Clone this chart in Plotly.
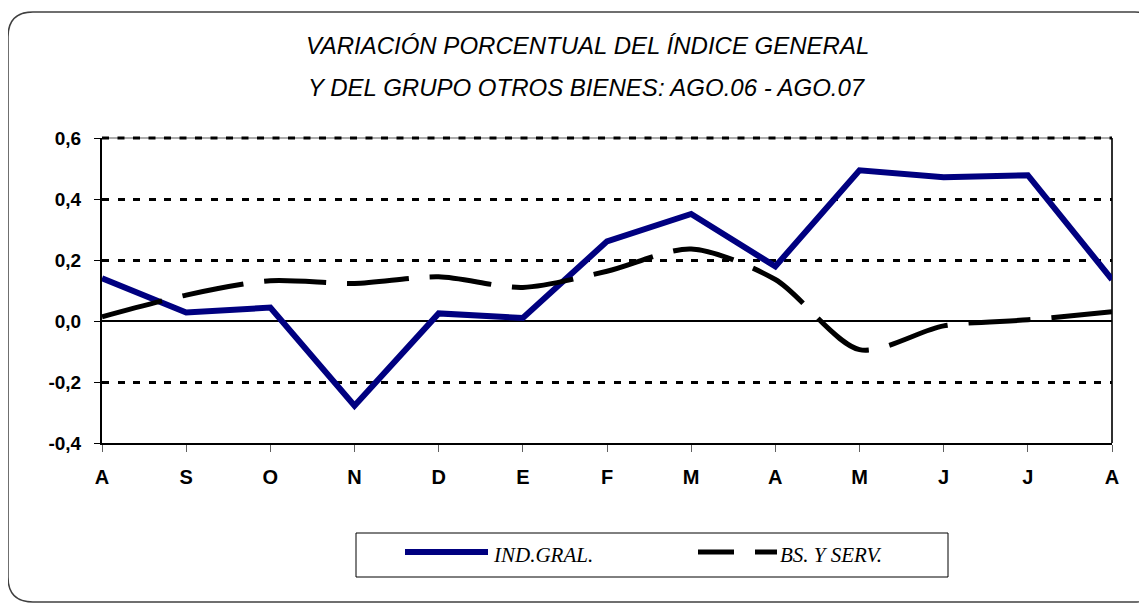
import plotly.graph_objects as go

months = ["A", "S", "O", "N", "D", "E", "F", "M", "A", "M", "J", "J", "A"]
ind_gral = [0.14, 0.028, 0.044, -0.278, 0.025, 0.01, 0.261, 0.351, 0.179, 0.494, 0.471, 0.478, 0.136]
bs_serv = [0.014, 0.085, 0.132, 0.123, 0.145, 0.11, 0.163, 0.236, 0.136, -0.094, -0.016, 0.004, 0.03]
yticks = [-0.4, -0.2, 0.0, 0.2, 0.4, 0.6]
series_names = ["IND.GRAL.", "BS. Y SERV."]
title_lines = ["VARIACIÓN PORCENTUAL DEL ÍNDICE GENERAL", "Y DEL GRUPO OTROS BIENES: AGO.06 - AGO.07"]

# page body has an 8px margin; figure sized so the picture fits 1147x604
W, H = 1139, 596
L, T = 94, 130
PW, PH = 1010, 305
R, B = W - L - PW, H - T - PH

# screen-pixel helpers (screen = figure + 8) -> paper coords
def px(x):
    return (x - 102) / PW

def py(y):
    return (443 - y) / PH

x = list(range(len(months)))

fig = go.Figure()
fig.add_trace(go.Scatter(x=x, y=ind_gral, mode="lines", name=series_names[0], showlegend=False,
                         line=dict(color="#000080", width=6)))
fig.add_trace(go.Scatter(x=x, y=bs_serv, mode="lines", name=series_names[1], showlegend=False,
                         line=dict(color="black", width=5, dash="62px,21px", shape="spline", smoothing=0.8)))

# rounded outer border
x0, x1, y0, y1 = px(8), px(1160), py(12), py(602)
rx, ry = 25 / PW, 25 / PH
border = (f"M {x0},{y1+ry} L {x0},{y0-ry} Q {x0},{y0} {x0+rx},{y0} L {x1-rx},{y0} "
          f"Q {x1},{y0} {x1},{y0-ry} L {x1},{y1+ry} Q {x1},{y1} {x1-rx},{y1} "
          f"L {x0+rx},{y1} Q {x0},{y1} {x0},{y1+ry} Z")

shapes = [
    dict(type="path", xref="paper", yref="paper", path=border,
         line=dict(color="#404040", width=1.5)),
    # right and top frame of plot area
    dict(type="line", xref="paper", yref="paper", x0=1, x1=1, y0=0, y1=1,
         line=dict(color="#303030", width=2), layer="below"),
    dict(type="line", xref="paper", yref="paper", x0=0, x1=1, y0=1, y1=1,
         line=dict(color="#909090", width=1.5), layer="below"),
    dict(type="line", xref="paper", yref="paper", x0=0, x1=1, y0=1, y1=1,
         line=dict(color="black", width=3, dash="7px,8.5px"), layer="below"),
    # legend box
    dict(type="rect", xref="paper", yref="paper", x0=px(356), x1=px(948), y0=py(577), y1=py(533),
         line=dict(color="black", width=1), fillcolor="white"),
    dict(type="line", xref="paper", yref="paper", x0=px(405), x1=px(488), y0=py(552), y1=py(552),
         line=dict(color="#000080", width=6)),
    dict(type="line", xref="paper", yref="paper", x0=px(698), x1=px(734), y0=py(552), y1=py(552),
         line=dict(color="black", width=5)),
    dict(type="line", xref="paper", yref="paper", x0=px(755), x1=px(777), y0=py(552), y1=py(552),
         line=dict(color="black", width=5)),
]

annotations = [
    dict(text="<i>%s</i>" % title_lines[0], xref="paper", yref="paper", x=px(587), y=py(45),
         xanchor="center", yanchor="middle", showarrow=False,
         font=dict(family="Arial, Liberation Sans", size=24, color="black")),
    dict(text="<i>%s</i>" % title_lines[1], xref="paper", yref="paper", x=px(587), y=py(87),
         xanchor="center", yanchor="middle", showarrow=False,
         font=dict(family="Arial, Liberation Sans", size=24, color="black")),
    dict(text="<i>%s</i>" % series_names[0], xref="paper", yref="paper", x=px(491), y=py(555),
         xanchor="left", yanchor="middle", showarrow=False,
         font=dict(family="Liberation Serif, Times New Roman", size=21, color="black")),
    dict(text="<i>%s</i>" % series_names[1], xref="paper", yref="paper", x=px(778), y=py(555),
         xanchor="left", yanchor="middle", showarrow=False,
         font=dict(family="Liberation Serif, Times New Roman", size=21, color="black")),
]

fig.update_layout(
    width=W, height=H,
    paper_bgcolor="white", plot_bgcolor="white",
    margin=dict(l=L, r=R, t=T, b=B, pad=0),
    font=dict(family="Arial, Liberation Sans", color="black"),
    showlegend=False,
    xaxis=dict(
        tickmode="array", tickvals=x, ticktext=["<b>%s</b>" % m for m in months],
        range=[0, len(months) - 1], showgrid=False, zeroline=False,
        showline=True, linecolor="black", linewidth=2,
        ticks="outside", ticklen=7, tickcolor="#606060", tickwidth=1,
        ticklabelstandoff=8,
        tickfont=dict(size=20, family="Arial, Liberation Sans", color="black"),
    ),
    yaxis=dict(
        range=[-0.4, 0.6], tickmode="array", tickvals=yticks,
        ticktext=["<b>%s</b>" % ("%.1f" % v).replace(".", ",") for v in yticks],
        showgrid=True, gridcolor="black", gridwidth=3, griddash="7px,8.5px",
        zeroline=True, zerolinecolor="black", zerolinewidth=2,
        showline=True, linecolor="black", linewidth=2,
        ticks="outside", ticklen=6, tickcolor="black", tickwidth=1,
        ticklabelstandoff=9,
        tickfont=dict(size=19, family="Arial, Liberation Sans", color="black"),
    ),
    shapes=shapes,
    annotations=annotations,
)

fig.write_html("out.html")
